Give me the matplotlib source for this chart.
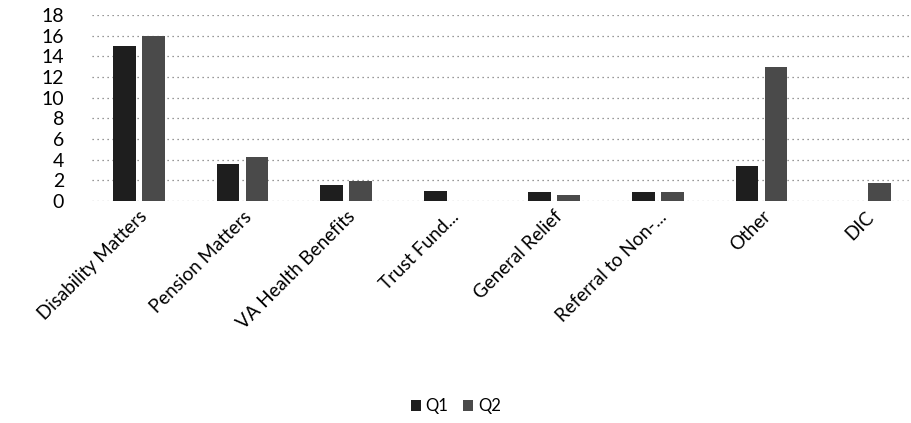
import numpy as np
import matplotlib
matplotlib.use('Agg')
import matplotlib.pyplot as plt

plt.rcParams['font.family'] = ['Lato', 'DejaVu Sans']

categories = ['Disability Matters', 'Pension Matters', 'VA Health Benefits', 'Trust Fund...',
              'General Relief', 'Referral to Non-...', 'Other', 'DIC']
q1 = [15, 3.6, 1.5, 1.0, 0.9, 0.9, 3.4, 0]
q2 = [16, 4.3, 1.9, 0, 0.6, 0.9, 13, 1.7]
yticks = list(range(0, 19, 2))

fig = plt.figure(figsize=(9.12, 4.23), dpi=100)
ax = fig.add_axes([92 / 912, 1 - 201 / 423, 820 / 912, 186 / 423])

x = np.arange(len(categories))
w = 0.22
ax.bar(x - 0.14, q1, w, color='#1e1e1e', label='Q1', zorder=3)
ax.bar(x + 0.14, q2, w, color='#4a4a4a', label='Q2', zorder=3)

ax.set_xlim(-0.45, len(categories) - 0.55)
ax.set_ylim(0, 18)
ax.set_yticks(yticks)
ax.set_yticklabels([str(t) for t in yticks], fontsize=14)
ax.yaxis.grid(True, color='#777777', linestyle=(0, (1, 3)), linewidth=0.9, zorder=0)
ax.tick_params(axis='both', length=0)
ax.tick_params(axis='y', pad=20)
ax.tick_params(axis='x', pad=5)
for s in ax.spines.values():
    s.set_visible(False)

ax.set_xticks(x)
ax.set_xticklabels(categories, rotation=45, ha='right', rotation_mode='anchor', fontsize=13.5)

fig.legend(loc='lower center', bbox_to_anchor=(0.5, -0.015), ncol=2, frameon=False,
           fontsize=12, handlelength=0.6, handleheight=0.6, columnspacing=0.9, handletextpad=0.3)

fig.savefig('out.png', dpi=100)
